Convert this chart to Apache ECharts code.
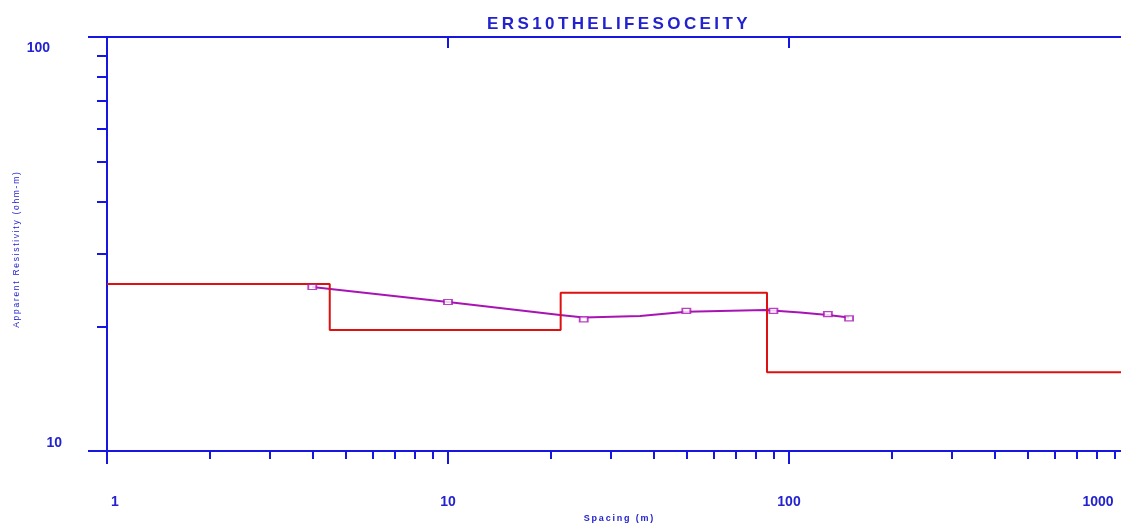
<!DOCTYPE html>
<html>
<head>
<meta charset="utf-8">
<script src="https://cdn.jsdelivr.net/npm/echarts@6/dist/echarts.min.js"></script>
<style>
  html, body { margin: 0; padding: 0; overflow: hidden; background: #fff; }
  #chart { width: 1130px; height: 523px; }
</style>
</head>
<body>
<div id="chart"></div>
<script>
// Sounding title and axis names
const titleText = 'ERS10THELIFESOCEITY';
const xName = 'Spacing (m)';
const yName = 'Apparent Resistivity (ohm-m)';

// Layered model: resistivity of each layer (ohm-m) and layer boundary depths (m)
const layerResistivity = [25.3, 19.6, 24.1, 15.5];
const layerBoundaries = [4.5, 21.4, 86.2];

// Field readings: electrode spacing (m) and apparent resistivity (ohm-m)
const obsSpacing = [4, 10, 25, 50, 90, 130, 150];
const obsRho = [24.9, 22.9, 20.8, 21.8, 21.8, 21.4, 20.9];

// Computed response curve of the model
const calcSpacing = [4, 10, 21.3, 25, 36.6, 50, 85, 108, 130, 150];
const calcRho = [24.9, 22.9, 21.3, 21.0, 21.2, 21.7, 21.9, 21.6, 21.3, 21.0];

// Axis ranges and ticks
const xMin = 1, xMax = 1000;
const yMin = 10, yMax = 100;
const xMajorTicks = [1, 10, 100, 1000];
const xTopTicks = [10, 100];
const xMinorTicks = [2, 3, 4, 5, 6, 7, 8, 9, 20, 30, 40, 50, 60, 70, 80, 90, 200, 300, 400, 500, 600, 700, 800, 900];
const yMajorTicks = [10, 100];
const yMinorTicks = [20, 30, 40, 50, 60, 70, 80, 90];

const BLUE = '#1616e0';
const TEXT_BLUE = '#2222d0';
const RED = '#dd1111';
const PURPLE = '#a814b4';
const FONT = '"Liberation Sans", Arial, sans-serif';

// Build the stepped model profile from the layer table
const modelLine = [];
let left = xMin;
layerResistivity.forEach((rho, i) => {
  const right = i < layerBoundaries.length ? layerBoundaries[i] : xMax;
  modelLine.push([left, rho]);
  modelLine.push([right, rho]);
  left = right;
});

const obsData = obsSpacing.map((s, i) => [s, obsRho[i]]);
const calcData = calcSpacing.map((s, i) => [s, calcRho[i]]);

const spaced = (s) => s.split('').join('\u2009');

const chart = echarts.init(document.getElementById('chart'), null, { renderer: 'canvas' });

const labelFont = { fontFamily: FONT, fontSize: 14, fontWeight: 'bold', color: TEXT_BLUE };

chart.setOption({
  animation: false,
  backgroundColor: '#ffffff',
  title: {
    text: spaced(titleText),
    left: 487,
    top: 16,
    padding: 0,
    textStyle: { fontFamily: FONT, fontSize: 17, fontWeight: 'bold', color: TEXT_BLUE }
  },
  grid: {
    left: 107, right: 0, top: 37, bottom: 72,
    containLabel: false,
    outerBoundsMode: 'none'
  },
  xAxis: [
    {
      type: 'log', logBase: 10, min: xMin, max: xMax, position: 'bottom',
      name: spaced(xName), nameLocation: 'middle', nameGap: 61,
      nameTextStyle: { fontFamily: FONT, fontSize: 9, fontWeight: 'bold', color: TEXT_BLUE, verticalAlign: 'top' },
      axisLine: { show: true, lineStyle: { color: BLUE, width: 2 } },
      axisTick: { show: true, customValues: xMajorTicks, length: 13, inside: false, lineStyle: { color: BLUE, width: 2 } },
      axisLabel: {
        show: true, customValues: xMajorTicks, margin: 44,
        ...labelFont,
        formatter: (v) => {
          const n = Math.round(v);
          if (n === 1) return '{first|1}';
          if (n === 1000) return '{last|1000}';
          return '{mid|' + n + '}';
        },
        rich: {
          first: { ...labelFont, padding: [0, 0, 0, 16] },
          mid: { ...labelFont },
          last: { ...labelFont, padding: [0, 64, 0, 0] }
        }
      },
      splitLine: { show: false },
      minorTick: { show: false }
    },
    {
      type: 'log', logBase: 10, min: xMin, max: xMax, position: 'bottom',
      axisLine: { show: false },
      axisTick: { show: true, customValues: xMinorTicks, length: 8, inside: false, lineStyle: { color: BLUE, width: 2 } },
      axisLabel: { show: false },
      splitLine: { show: false }
    },
    {
      type: 'log', logBase: 10, min: xMin, max: xMax, position: 'top',
      axisLine: { show: true, lineStyle: { color: BLUE, width: 2 } },
      axisTick: { show: true, customValues: xTopTicks, length: 11, inside: true, lineStyle: { color: BLUE, width: 2 } },
      axisLabel: { show: false },
      splitLine: { show: false }
    }
  ],
  yAxis: [
    {
      type: 'log', logBase: 10, min: yMin, max: yMax, position: 'left',
      name: spaced(yName), nameLocation: 'middle', nameGap: 86, nameRotate: 90,
      nameMoveOverlap: false,
      nameTextStyle: { fontFamily: FONT, fontSize: 8.5, fontWeight: 'normal', color: TEXT_BLUE, padding: [0, 12, 0, 0] },
      axisLine: { show: true, lineStyle: { color: BLUE, width: 2 } },
      axisTick: { show: true, customValues: yMajorTicks, length: 19, inside: false, lineStyle: { color: BLUE, width: 2 } },
      axisLabel: {
        show: true, customValues: yMajorTicks, margin: 45,
        ...labelFont,
        formatter: (v) => {
          const n = Math.round(v);
          return n === 100 ? '{hi|100}' : '{lo|' + n + '}';
        },
        rich: {
          hi: { ...labelFont, padding: [22, 12, 0, 0] },
          lo: { ...labelFont, padding: [0, 0, 16, 0] }
        }
      },
      splitLine: { show: false },
      minorTick: { show: false }
    },
    {
      type: 'log', logBase: 10, min: yMin, max: yMax, position: 'left',
      axisLine: { show: false },
      axisTick: { show: true, customValues: yMinorTicks, length: 10, inside: false, lineStyle: { color: BLUE, width: 2 } },
      axisLabel: { show: false },
      splitLine: { show: false }
    }
  ],
  series: [
    {
      name: 'Calculated',
      type: 'line',
      xAxisIndex: 0, yAxisIndex: 0,
      data: calcData,
      showSymbol: false,
      symbol: 'none',
      lineStyle: { color: PURPLE, width: 2 },
      z: 2
    },
    {
      name: 'Model',
      type: 'line',
      xAxisIndex: 0, yAxisIndex: 0,
      data: modelLine,
      symbol: 'none',
      lineStyle: { color: RED, width: 2 },
      z: 3
    },
    {
      name: 'Observed',
      type: 'scatter',
      xAxisIndex: 0, yAxisIndex: 0,
      data: obsData,
      symbol: 'rect',
      symbolSize: [8, 5],
      itemStyle: { color: '#ffffff', borderColor: PURPLE, borderWidth: 1.5 },
      z: 4
    }
  ]
});
</script>
</body>
</html>
